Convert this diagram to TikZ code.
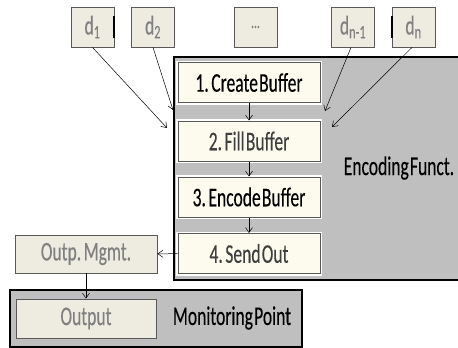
\documentclass[tikz,border=0pt]{standalone}
\usepackage{fontspec}
\usepackage{tikz}
\usetikzlibrary{arrows.meta,positioning,calc}
\newfontfamily\diagfont[FakeStretch=0.65,WordSpace=0.3,FakeBold=0.2]{Carlito}
\definecolor{BoxBeige}{HTML}{EEECE1}
\definecolor{StepCream}{HTML}{FCFBEE}
\definecolor{EdgeGray}{HTML}{595959}
\definecolor{PanelGray}{HTML}{BFBFBF}
\definecolor{LabelGray}{HTML}{808080}
\definecolor{DarkText}{HTML}{3F3F3F}
\tikzset{
  dbox/.style={draw=EdgeGray,fill=BoxBeige,line width=0.8pt,minimum width=43,minimum height=40,inner sep=0pt,text=LabelGray},
  stepbox/.style={draw=EdgeGray,fill=StepCream,line width=1pt,minimum width=142,minimum height=40,inner sep=0pt,
    preaction={draw=white,line width=4pt}},
  grayblk/.style={draw=EdgeGray,fill=BoxBeige,line width=0.8pt,inner sep=0pt,text=LabelGray},
  panel/.style={draw=black,fill=PanelGray,line width=2.5pt},
  feed/.style={-{Straight Barb[length=5pt,width=7pt]},line width=0.5pt}
}
\begin{document}
\begin{tikzpicture}[x=1pt,y=-1pt,font=\diagfont\fontsize{27}{29}\selectfont]
 \useasboundingbox (0,0) rectangle (458,348);
 \clip (0,0) rectangle (458,348);
 % panels
 \draw[panel] (174,57) rectangle (470,280);
 \draw[panel] (10,290) rectangle (302,347);
 % input boxes
 \node[dbox] (d1) at (92.5,27) {d\textsubscript{1}};
 \node[dbox] (d2) at (153,27) {d\textsubscript{2}};
 \node[dbox] (dd) at (255.5,27) {\fontsize{18}{18}\selectfont...};
 \node[dbox] (dm) at (353,27) {d\textsubscript{n-1}};
 \node[dbox] (dn) at (413.5,27) {d\textsubscript{n}};
 \draw[line width=2pt] (d1.east) ++(0,-11) -- ++(0,22);
 \draw[line width=2pt] (dn.west) ++(0,-11) -- ++(0,22);
 % encoding steps
 \node[stepbox] (create) at (249,82.5) {1. Create Buffer};
 \node[stepbox,text=DarkText] (fill) at (249,141) {2. Fill Buffer};
 \node[stepbox] (encode) at (249,197) {3. Encode Buffer};
 \node[stepbox,text=DarkText] (send) at (249,253.5) {4. Send Out};
 \node (enclab) at (399,168) {Encoding Funct.};
 % output side
 \node[grayblk,minimum width=142,minimum height=38] (outp) at (86,254) {Outp. Mgmt.};
 \node[grayblk,minimum width=140,minimum height=39] (output) at (86,318.5) {Output};
 \node (monlab) at (232,318) {Monitoring Point};
 % arrows
 \coordinate (in1) at (167,128);
 \coordinate (in2) at (173,110);
 \coordinate (inm) at (325,111);
 \coordinate (inn) at (332,127);
 \draw[feed] (d1.south) -- (in1);
 \draw[feed] (d2.south) -- (in2);
 \draw[feed] ([xshift=-2]dm.south) -- (inm);
 \draw[feed] ([xshift=-1.5]dn.south) -- (inn);
 \draw[feed] (create) -- (fill);
 \draw[feed] (fill) -- (encode);
 \draw[feed] (encode) -- (send);
 \draw[feed] (send) -- (outp);
 \draw[feed] (outp) -- (output);
\end{tikzpicture}
\end{document}
